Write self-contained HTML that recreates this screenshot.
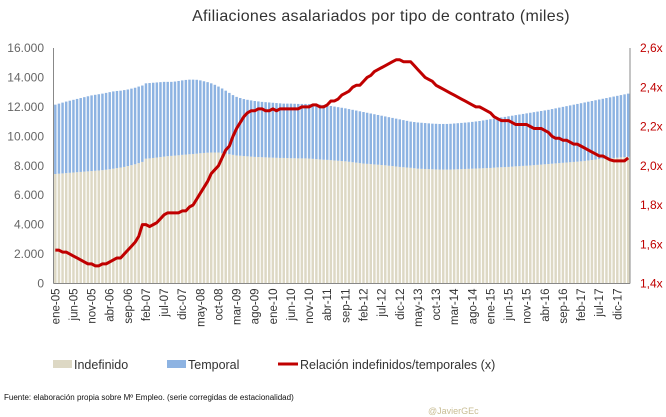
<!DOCTYPE html>
<html><head><meta charset="utf-8"><style>
html,body{margin:0;padding:0;background:#fff;}
svg{display:block;font-family:"Liberation Sans",sans-serif;}
</style></head><body>
<svg id="chart" width="666" height="417" viewBox="0 0 666 417">
<text x="381" y="21" text-anchor="middle" font-size="16" letter-spacing="0.3" fill="#333">Afiliaciones asalariados por tipo de contrato (miles)</text>
<g id="bars"></g>
<g id="axes"></g>
<g id="line"></g>
<g>
<g><rect x="53" y="360" width="19" height="8" fill="#ddd8c4"/><text x="74" y="369" font-size="12.5" fill="#333">Indefinido</text></g>
<g><rect x="167" y="360" width="19" height="8" fill="#8db3e2"/><text x="188" y="369" font-size="12.5" fill="#333">Temporal</text></g>
<g><line x1="278" y1="364" x2="298" y2="364" stroke="#c00000" stroke-width="3"/><text x="300" y="369" font-size="12.5" fill="#333">Relación indefinidos/temporales (x)</text></g>
</g>
<text x="4" y="400" font-size="8" fill="#111">Fuente: elaboración propia sobre Mº Empleo. (serie corregidas de estacionalidad)</text>
<text x="428" y="414" font-size="9" fill="#c9bd94">@JavierGEc</text>
</svg>
<script>
const xLabels=["ene-05","jun-05","nov-05","abr-06","sep-06","feb-07","jul-07","dic-07","may-08","oct-08","mar-09","ago-09","ene-10","jun-10","nov-10","abr-11","sep-11","feb-12","jul-12","dic-12","may-13","oct-13","mar-14","ago-14","ene-15","jun-15","nov-15","abr-16","sep-16","feb-17","jul-17","dic-17"];
const leftTicks=[0,2000,4000,6000,8000,10000,12000,14000,16000];
const leftTickLabels=["0","2.000","4.000","6.000","8.000","10.000","12.000","14.000","16.000"];
const rightTicks=[1.4,1.6,1.8,2.0,2.2,2.4,2.6];
const rightTickLabels=["1,4x","1,6x","1,8x","2,0x","2,2x","2,4x","2,6x"];
const indefinido=[7440,7460,7480,7500,7520,7540,7560,7580,7600,7620,
7640,7660,7680,7700,7730,7760,7800,7840,7880,7920,
7980,8040,8100,8180,8260,8480,8500,8530,8560,8590,
8620,8650,8670,8690,8710,8740,8760,8780,8800,8820,
8850,8870,8890,8900,8900,8900,8870,8820,8780,8740,
8700,8680,8660,8640,8620,8600,8590,8580,8570,8560,
8550,8540,8530,8530,8520,8510,8510,8500,8500,8500,
8490,8470,8450,8430,8410,8400,8380,8360,8340,8320,
8300,8270,8240,8210,8180,8150,8130,8110,8090,8070,
8050,8030,8000,7980,7950,7920,7900,7880,7860,7830,
7800,7790,7780,7770,7760,7750,7740,7740,7740,7740,
7750,7760,7770,7780,7790,7800,7810,7820,7830,7840,
7850,7870,7890,7900,7910,7920,7940,7960,7970,7990,
8000,8020,8040,8060,8080,8100,8120,8140,8160,8180,
8200,8220,8240,8260,8280,8300,8330,8360,8390,8420,
8450,8470,8490,8510,8530,8550,8570,8590,8610];
const temporal=[4710,4760,4810,4860,4900,4940,4980,5020,5060,5100,
5140,5160,5180,5200,5220,5240,5250,5240,5220,5220,
5200,5200,5200,5200,5190,5120,5120,5110,5100,5090,
5080,5050,5030,5030,5050,5060,5070,5070,5050,5020,
4950,4870,4790,4700,4600,4480,4380,4280,4170,4060,
3980,3920,3870,3840,3820,3800,3780,3760,3750,3740,
3730,3720,3710,3690,3700,3710,3700,3700,3700,3700,
3700,3710,3720,3720,3720,3700,3680,3660,3640,3620,
3600,3580,3560,3540,3520,3500,3470,3440,3410,3380,
3350,3320,3300,3270,3250,3230,3200,3170,3140,3140,
3140,3130,3120,3110,3100,3100,3100,3100,3100,3110,
3120,3130,3140,3150,3160,3180,3200,3220,3250,3280,
3310,3330,3350,3380,3410,3440,3460,3480,3510,3530,
3560,3580,3600,3620,3640,3660,3680,3710,3740,3770,
3800,3830,3860,3890,3920,3950,3970,3990,4010,4030,
4050,4080,4110,4140,4170,4200,4230,4260,4290];
const ratio=[1.57,1.57,1.56,1.56,1.55,1.54,1.53,1.52,1.51,1.50,
1.50,1.49,1.49,1.50,1.50,1.51,1.52,1.53,1.53,1.55,
1.57,1.59,1.61,1.64,1.70,1.70,1.69,1.70,1.71,1.73,
1.75,1.76,1.76,1.76,1.76,1.77,1.77,1.79,1.80,1.83,
1.86,1.89,1.92,1.96,1.98,2.00,2.04,2.08,2.10,2.15,
2.19,2.22,2.25,2.27,2.28,2.28,2.29,2.29,2.28,2.28,
2.29,2.28,2.29,2.29,2.29,2.29,2.29,2.29,2.30,2.30,
2.30,2.31,2.31,2.30,2.30,2.31,2.33,2.33,2.34,2.36,
2.37,2.38,2.40,2.41,2.41,2.43,2.45,2.46,2.48,2.49,
2.50,2.51,2.52,2.53,2.54,2.54,2.53,2.53,2.53,2.51,
2.49,2.47,2.45,2.44,2.43,2.41,2.40,2.39,2.38,2.37,
2.36,2.35,2.34,2.33,2.32,2.31,2.30,2.30,2.29,2.28,
2.27,2.25,2.24,2.23,2.23,2.23,2.22,2.21,2.21,2.21,
2.21,2.20,2.19,2.19,2.19,2.18,2.17,2.15,2.14,2.14,
2.13,2.13,2.12,2.11,2.11,2.10,2.09,2.08,2.07,2.06,
2.05,2.05,2.04,2.03,2.025,2.025,2.025,2.025,2.04];

const NS="http://www.w3.org/2000/svg";
const X0=53.5,X1=630,YT=48,YB=283.5;
const n=indefinido.length;
const band=(X1-X0)/n;
const xC=i=>X0+band*(i+0.5);
const yL=v=>YB-(v/16000)*(YB-YT);
const yR=v=>YB-((v-1.4)/1.2)*(YB-YT);
function mk(tag,attrs,parent){const e=document.createElementNS(NS,tag);for(const k in attrs)e.setAttribute(k,attrs[k]);parent.appendChild(e);return e;}
const bars=document.getElementById('bars'),axes=document.getElementById('axes'),lineG=document.getElementById('line');
const bw=band*0.68;
for(let i=0;i<n;i++){
  const a=mk('rect',{x:xC(i)-bw/2,y:yL(indefinido[i]),width:bw,height:YB-yL(indefinido[i]),fill:'#ddd8c4'},bars);
  
  
  const top=indefinido[i]+temporal[i];
  const b=mk('rect',{x:xC(i)-bw/2,y:yL(top),width:bw,height:yL(indefinido[i])-yL(top),fill:'#8db3e2'},bars);
  
  
}
const la=mk('line',{x1:X0,y1:YT,x2:X0,y2:YB,stroke:'#888','stroke-width':1},axes);


const ra=mk('line',{x1:X1,y1:YT,x2:X1,y2:YB,stroke:'#888','stroke-width':1},axes);


const xa=mk('line',{x1:X0,y1:YB,x2:X1,y2:YB,stroke:'#888','stroke-width':1},axes);


leftTicks.forEach((v,k)=>{
  const t=mk('text',{x:44,y:yL(v)+4,'text-anchor':'end','font-size':12,fill:'#666'},axes);
  t.textContent=leftTickLabels[k];
  
  
});
rightTicks.forEach((v,k)=>{
  const t=mk('text',{x:640,y:yR(v)+4,'font-size':12,fill:'#c00000'},axes);
  t.textContent=rightTickLabels[k];
  
  
});
xLabels.forEach((s,k)=>{
  const x=xC(k*5)+4,y=YB+5;
  const t=mk('text',{x:x,y:y,'text-anchor':'end','font-size':11.5,fill:'#333',transform:`rotate(-90 ${x} ${y})`},axes);
  t.textContent=s;
  
  
});
const pts=ratio.map((v,i)=>xC(i).toFixed(2)+','+yR(v).toFixed(2)).join(' ');
const pl=mk('polyline',{points:pts,fill:'none',stroke:'#c00000','stroke-width':3,'stroke-linejoin':'round'},lineG);


</script>
</body></html>
